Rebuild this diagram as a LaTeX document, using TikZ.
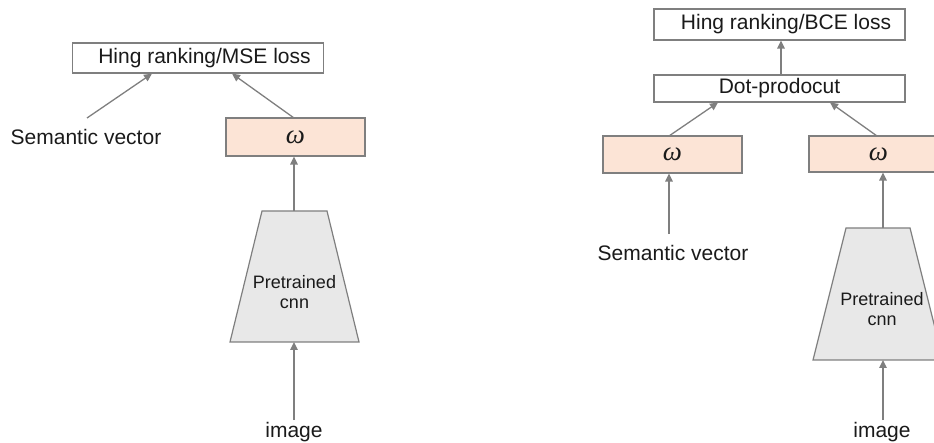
\documentclass[tikz,border=0pt]{standalone}
\usepackage{fontspec}
\setmainfont{Liberation Sans}
\newfontfamily\omegafont{Liberation Serif}
\usetikzlibrary{arrows.meta}
\definecolor{edgegray}{HTML}{7F7F7F}
\definecolor{peach}{HTML}{FCE4D6}
\definecolor{cnngray}{HTML}{E8E8E8}
\definecolor{inkc}{HTML}{1A1A1A}
\tikzset{
  lossbox/.style={draw=edgegray, line width=1.2pt, fill=white, minimum width=251pt, inner sep=0pt,
    text=inkc, font=\fontsize{21}{24}\selectfont},
  wbox/.style={draw=edgegray, line width=1.2pt, fill=peach, minimum width=139pt, inner sep=0pt,
    text=inkc, font=\omegafont\itshape\fontsize{27}{30}\selectfont},
  cnnshape/.style={draw=edgegray, line width=1.2pt, fill=cnngray, line join=miter},
  plain/.style={inner sep=0pt, text=inkc, font=\fontsize{21}{24}\selectfont},
  cnntext/.style={align=center, inner sep=0pt, text=inkc, font=\fontsize{18}{20.5}\selectfont},
  flow/.style={draw=edgegray, line width=1.3pt, -{Triangle[length=8pt,width=7.5pt]}},
}
\begin{document}
\begin{tikzpicture}[x=1pt,y=-1pt]
\useasboundingbox (0,0) rectangle (934,443);
\begin{scope}
\clip (0,0) rectangle (934,443);

% ---- regression model ----
\node[lossbox, minimum height=30pt] (loss1) at (198,58) {\hspace*{13pt}Hing ranking/MSE loss};
\node[plain] (sem1) at (86,137) {Semantic vector};
\node[wbox, minimum height=38pt] (w1) at (295.5,137) {ω};
% trapezoid of the pretrained network
\coordinate (cnn1tl) at (262,211);
\coordinate (cnn1tr) at (327,211);
\coordinate (cnn1br) at (359,342);
\coordinate (cnn1bl) at (230,342);
\coordinate (cnn1top) at (294,211);
\coordinate (cnn1bot) at (294,342);
\draw[cnnshape] (cnn1tl) -- (cnn1tr) -- (cnn1br) -- (cnn1bl) -- cycle;
\node[cnntext] (cnnlab1) at (294.5,292) {Pretrained\\cnn};
\node[plain] (img1) at (294,432) {image};

\coordinate (sem1out) at (87,118);
\coordinate (loss1inL) at (152,73.6);
\coordinate (w1out) at (294,118);
\coordinate (loss1inR) at (232,73.6);
\draw[flow] (sem1out) -- (loss1inL);
\draw[flow] (w1out) -- (loss1inR);
\draw[flow] (cnn1top) -- (cnn1top |- w1.south);
\draw[flow] (img1.north) ++(0,-2) coordinate (img1out) (img1out) -- (cnn1bot);

% ---- dot-product model ----
\node[lossbox, minimum height=31pt] (loss2) at (779.5,24.5) {\hspace*{13pt}Hing ranking/BCE loss};
\node[lossbox, minimum height=27pt] (dot) at (779.5,88.5) {Dot-prodocut};
\node[wbox, minimum height=37pt] (w2) at (672.5,154.5) {ω};
\node[wbox, minimum height=36pt] (w3) at (878.5,154) {ω};
\node[plain] (sem2) at (673,253) {Semantic vector};
\coordinate (cnn2tl) at (846,228);
\coordinate (cnn2tr) at (910,228);
\coordinate (cnn2br) at (943,360);
\coordinate (cnn2bl) at (813,360);
\coordinate (cnn2top) at (883,228);
\coordinate (cnn2bot) at (883,360);
\draw[cnnshape] (cnn2tl) -- (cnn2tr) -- (cnn2br) -- (cnn2bl) -- cycle;
\node[cnntext] (cnnlab2) at (882,309) {Pretrained\\cnn};
\node[plain] (img2) at (882,432) {image};

\coordinate (dotout) at (781,75);
\coordinate (w2out) at (669,136);
\coordinate (dotinL) at (718,102.5);
\coordinate (w3out) at (877,136);
\coordinate (dotinR) at (830,102.5);
\draw[flow] (dotout) -- (dotout |- loss2.south);
\draw[flow] (w2out) -- (dotinL);
\draw[flow] (w3out) -- (dotinR);
\draw[flow] (sem2.north -| w2out) ++(0,-11) coordinate (sem2out) (sem2out) -- (sem2out |- w2.south);
\draw[flow] (cnn2top) -- (cnn2top |- w3.south);
\draw[flow] (img2.north) ++(1,-2) coordinate (img2out) (img2out) -- (cnn2bot);
\end{scope}
\end{tikzpicture}
\end{document}
